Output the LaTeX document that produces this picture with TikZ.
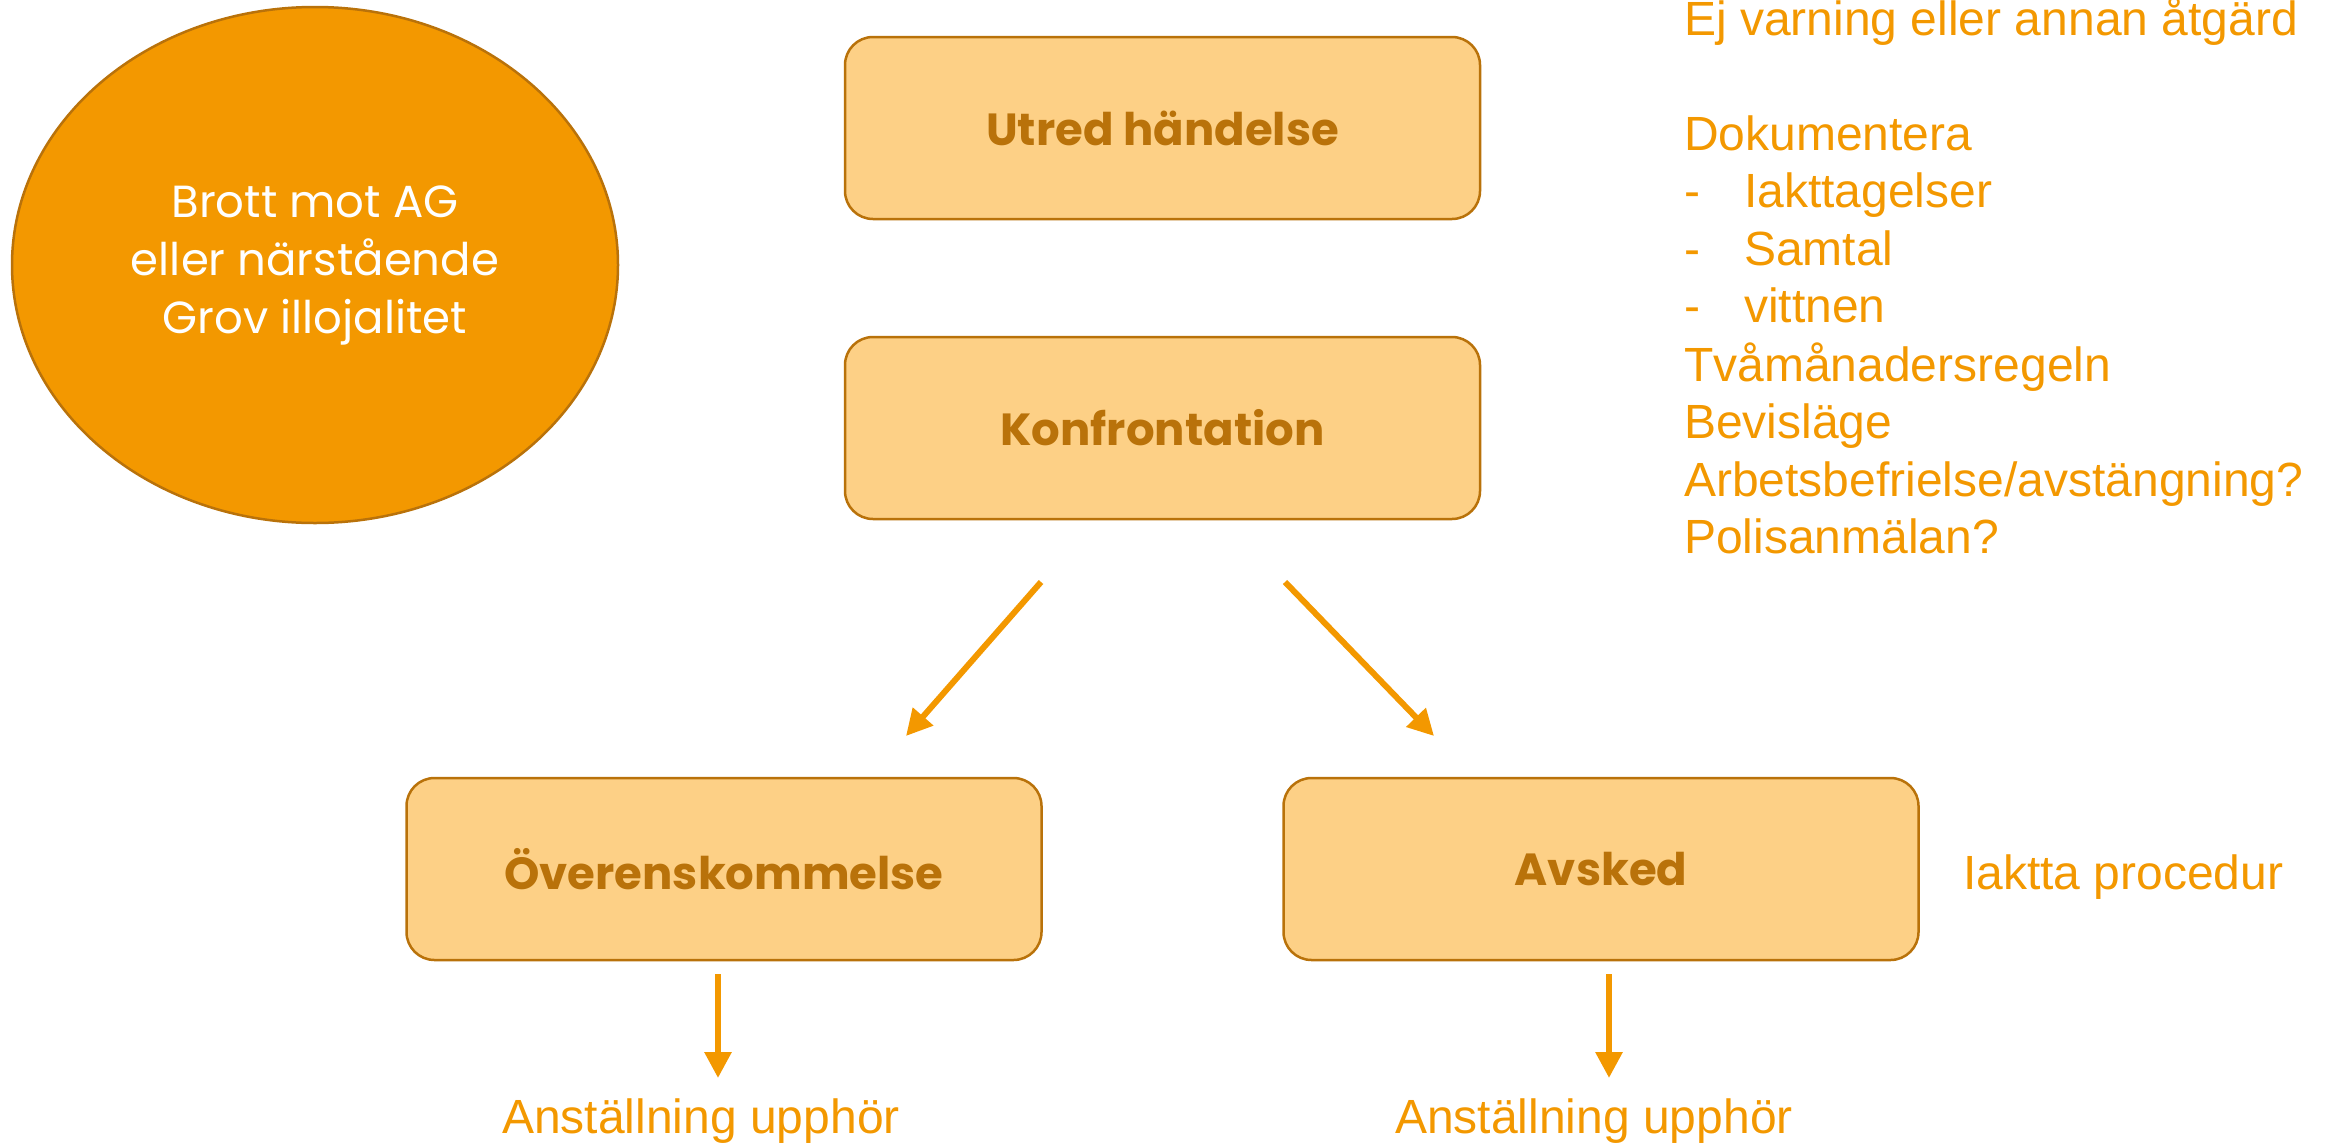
\documentclass[tikz,border=0pt]{standalone}
\usepackage{fontspec}
\setmainfont{Liberation Sans}
\newfontfamily\gothic{Poppins}
\usetikzlibrary{arrows.meta,shapes.geometric}
\definecolor{orng}{RGB}{243,152,0}
\definecolor{lbox}{RGB}{253,208,134}
\definecolor{dbrd}{RGB}{185,114,10}
\begin{document}
\begin{tikzpicture}[x=1pt,y=-1pt]
\tikzset{
  box/.style={draw=dbrd, line width=2.5pt, fill=lbox, rounded corners=28pt,
    minimum width=635pt, minimum height=182pt, inner sep=0pt,
    font=\gothic\bfseries\fontsize{45}{52}\selectfont, text=dbrd},
  note/.style={font=\fontsize{48}{57.5}\selectfont, text=orng, inner sep=0pt, anchor=base west},
  flow/.style={draw=orng, line width=6pt, -{Triangle[length=26pt,width=26pt]}}
}
\useasboundingbox (0,0) rectangle (2325,1146);
% ellipse
\node[ellipse, draw=dbrd, fill=orng, line width=2.5pt, minimum width=606pt,
  minimum height=516pt, inner sep=0pt, text=white, align=center,
  font=\gothic\fontsize{45}{58}\selectfont] (brott) at (315,265)
  {Brott mot AG\\eller närstående\\Grov illojalitet};
% boxes
\node[box] (utred) at (1162.5,128) {Utred händelse};
\node[box] (konf) at (1162.5,428) {Konfrontation};
\node[box] (over) at (724,869) {Överenskommelse};
\node[box] (avsk) at (1601,869) {Avsked};
% right notes
\node[note] (n1) at (1684,35) {Ej varning eller annan åtgärd};
\node[note] (n2) at (1684,150) {Dokumentera};
\node[note] (n3) at (1684,207) {\makebox[60pt][l]{-}Iakttagelser};
\node[note] (n4) at (1684,265) {\makebox[60pt][l]{-}Samtal};
\node[note] (n5) at (1684,322) {\makebox[60pt][l]{-}vittnen};
\node[note] (n6) at (1684,381) {Tvåmånadersregeln};
\node[note] (n7) at (1684,438) {Bevisläge};
\node[note] (n8) at (1684,496) {Arbetsbefrielse/avstängning?};
\node[note] (n9) at (1684,553) {Polisanmälan?};
\node[note] (iaktta) at (1963,889) {Iaktta procedur};
\node[note] (anst1) at (502,1133) {Anställning upphör};
\node[note] (anst2) at (1395,1133) {Anställning upphör};
% arrows
\coordinate (k1) at (1041,582);
\coordinate (o1) at (906,736);
\coordinate (k2) at (1285,582);
\coordinate (a1) at (1434,736);
\coordinate (o2) at (718,974);
\coordinate (oe) at (718,1078);
\coordinate (a2) at (1609,974);
\coordinate (ae) at (1609,1078);
\draw[flow] (k1) -- (o1);
\draw[flow] (k2) -- (a1);
\draw[flow] (o2) -- (oe);
\draw[flow] (a2) -- (ae);
\end{tikzpicture}
\end{document}
